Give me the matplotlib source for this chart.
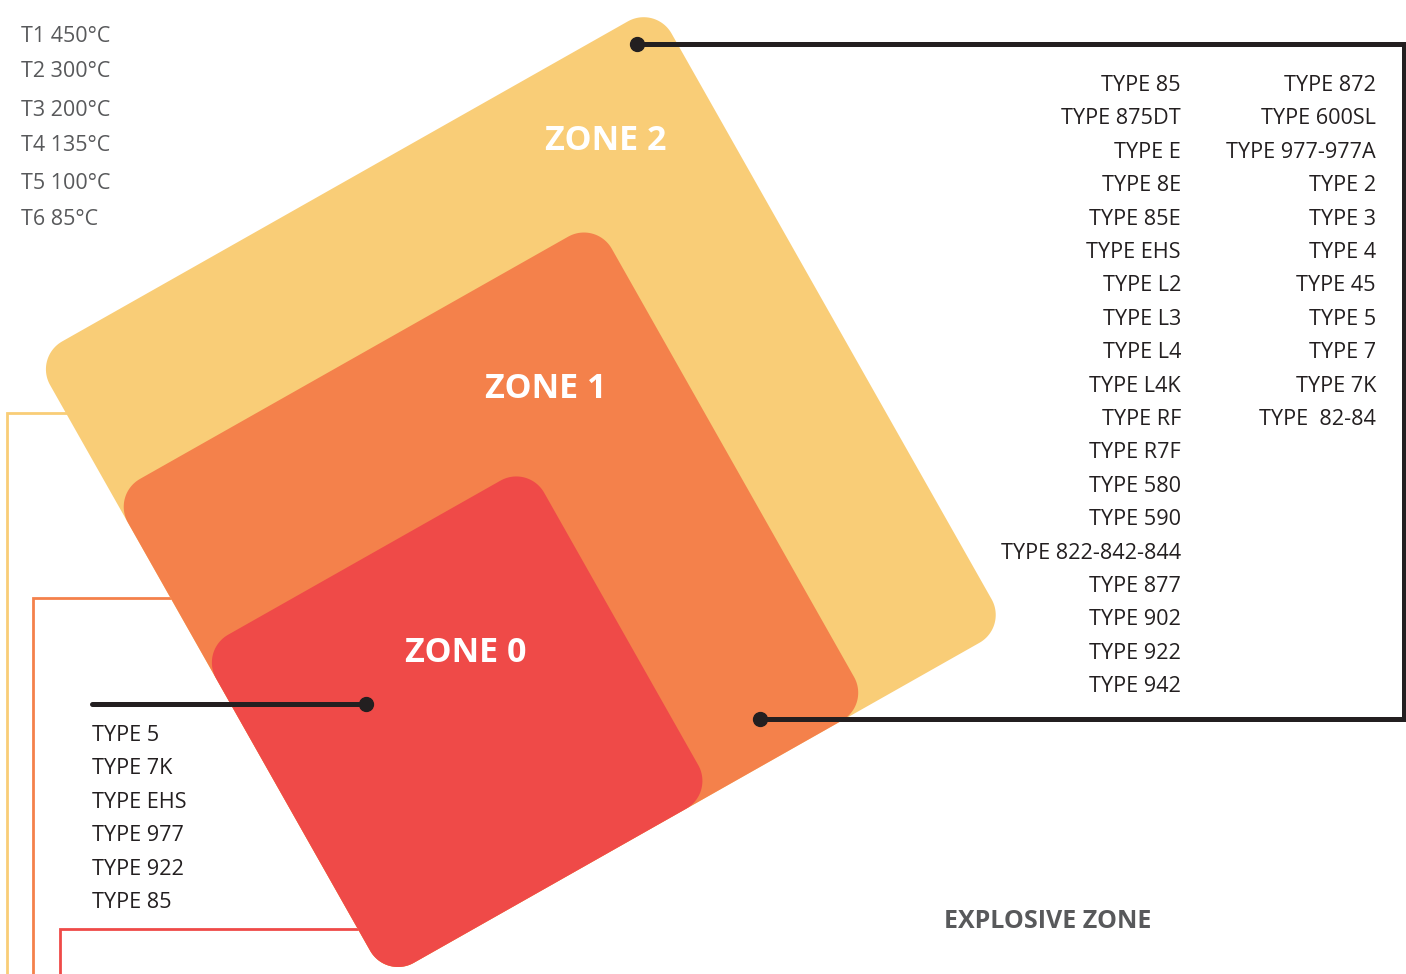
import numpy as np
import matplotlib
matplotlib.use("Agg")
import matplotlib.pyplot as plt
from matplotlib.patches import Polygon

# ---------------- data ----------------
zones = ["ZONE 2", "ZONE 1", "ZONE 0"]
zone_sides = [650, 492, 313]            # inner side length of each rotated square (px)
zone_colors = ["#F9CD77", "#F4814B", "#EF4A48"]
zone_label_pos = [(606, 138), (546, 386), (466, 650)]

temp_classes = ["T1 450°C", "T2 300°C", "T3 200°C", "T4 135°C", "T5 100°C", "T6 85°C"]
temp_y = [34, 69, 108, 143, 181, 217]

zone21_col1 = ["TYPE 85", "TYPE 875DT", "TYPE E", "TYPE 8E", "TYPE 85E", "TYPE EHS",
               "TYPE L2", "TYPE L3", "TYPE L4", "TYPE L4K", "TYPE RF", "TYPE R7F",
               "TYPE 580", "TYPE 590", "TYPE 822-842-844", "TYPE 877", "TYPE 902",
               "TYPE 922", "TYPE 942"]
zone21_col2 = ["TYPE 872", "TYPE 600SL", "TYPE 977-977A", "TYPE 2", "TYPE 3", "TYPE 4",
               "TYPE 45", "TYPE 5", "TYPE 7", "TYPE 7K", "TYPE  82-84"]
zone0_types = ["TYPE 5", "TYPE 7K", "TYPE EHS", "TYPE 977", "TYPE 922", "TYPE 85"]

title = "EXPLOSIVE ZONE"

# ---------------- helpers ----------------
W, H = 1406, 974
fig = plt.figure(figsize=(W / 100, H / 100), dpi=100)
ax = fig.add_axes([0, 0, 1, 1])
ax.set_xlim(0, W)
ax.set_ylim(H, 0)
ax.axis("off")

FONT = ["Open Sans", "DejaVu Sans"]
DARK = "#231F20"
GRAY = "#58595B"


def rounded_square(B, side, r, angle_deg=-29.5, n=24):
    a = np.deg2rad(angle_deg)
    d1 = np.array([np.cos(a), np.sin(a)])
    d2 = np.array([np.cos(a - np.pi / 2), np.sin(a - np.pi / 2)])
    B = np.array(B, float)
    corners = [B, B + side * d1, B + side * (d1 + d2), B + side * d2]
    pts = []
    start = angle_deg + 180.0
    for k, c in enumerate(corners):
        a0 = np.deg2rad(start - 90 * k)
        th = np.linspace(a0, a0 - np.pi / 2, n)
        pts.append(np.column_stack([c[0] + r * np.cos(th), c[1] + r * np.sin(th)]))
    return np.vstack(pts)


anchor = (398, 935)
radius = 32

# colored outline brackets on the left (behind shapes)
bracket_x = [7, 33, 60]
bracket_y = [413, 598, 929]
bracket_end = [90, 190, 380]
for bx, by, be, col in zip(bracket_x, bracket_y, bracket_end, zone_colors):
    ax.plot([bx, bx, be], [H + 5, by, by], color=col, lw=2.0, zorder=1,
            solid_joinstyle="miter")

# zone squares
for i, (side, col) in enumerate(zip(zone_sides, zone_colors)):
    poly = Polygon(rounded_square(anchor, side, radius), closed=True,
                   facecolor=col, edgecolor="none", zorder=2 + i)
    ax.add_patch(poly)

for name, (x, y) in zip(zones, zone_label_pos):
    ax.text(x, y + 3, name, color="white", fontsize=24.5, fontweight="bold",
            family=FONT, ha="center", va="center", zorder=10)

# connectors
ax.plot([637, 1404, 1404, 760], [44, 44, 719, 719], color=DARK, lw=3.6,
        solid_joinstyle="miter", solid_capstyle="butt", zorder=8)
ax.plot([637], [44], "o", color=DARK, ms=10, zorder=9)
ax.plot([760], [719], "o", color=DARK, ms=10, zorder=9)
ax.plot([92, 366], [704, 704], color=DARK, lw=3.6, solid_capstyle="round", zorder=8)
ax.plot([366], [704], "o", color=DARK, ms=10, zorder=9)

# temperature classes
for t, y in zip(temp_classes, temp_y):
    ax.text(21, y + 8, t, color=GRAY, fontsize=15.5, family=FONT,
            ha="left", va="baseline")

# type lists
row0, step = 83, 33.4
for i, t in enumerate(zone21_col1):
    ax.text(1181, row0 + step * i + 8, t, color=DARK, fontsize=15.6, family=FONT,
            ha="right", va="baseline", zorder=11)
for i, t in enumerate(zone21_col2):
    ax.text(1376, row0 + step * i + 8, t, color=DARK, fontsize=15.6, family=FONT,
            ha="right", va="baseline", zorder=11)
for i, t in enumerate(zone0_types):
    ax.text(92, 733 + step * i + 8, t, color=DARK, fontsize=15.6, family=FONT,
            ha="left", va="baseline", zorder=11)

ax.text(1048, 921, title, color=GRAY, fontsize=18, fontweight="bold", family=FONT,
        ha="center", va="center")

fig.savefig("out.png", dpi=100)
